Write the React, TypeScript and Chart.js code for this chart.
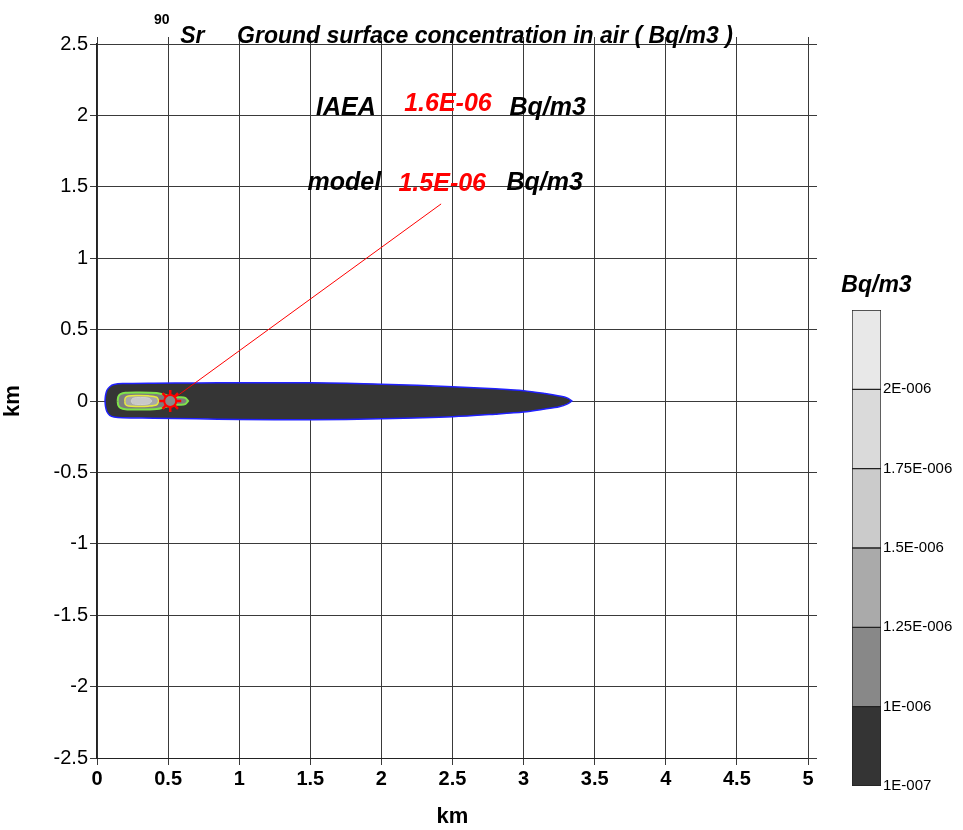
import React, { useEffect, useRef } from "react";
import { Chart, registerables } from "chart.js";

Chart.register(...registerables);

// ---- Data ----
// Outer plume contour (>= 1E-007 Bq/m3)
const plumeX = [0.056, 0.06, 0.07, 0.09, 0.12, 0.18, 0.4, 0.7, 1.0, 1.5, 2.0, 2.5, 2.8, 3.0, 3.15, 3.25, 3.31, 3.34];
const plumeTop = [0, 0.04, 0.075, 0.1, 0.115, 0.122, 0.125, 0.126, 0.128, 0.127, 0.118, 0.1, 0.085, 0.072, 0.052, 0.035, 0.02, 0];
const plumeBottom = [0, -0.04, -0.075, -0.1, -0.112, -0.118, -0.12, -0.124, -0.13, -0.132, -0.124, -0.11, -0.092, -0.077, -0.056, -0.04, -0.02, 0];

// Inner contour (green)
const greenX = [0.145, 0.15, 0.165, 0.2, 0.3, 0.42, 0.47, 0.52, 0.58, 0.62, 0.64];
const greenTop = [0, 0.03, 0.048, 0.058, 0.06, 0.056, 0.045, 0.03, 0.026, 0.022, 0];
const greenBottom = [0, -0.03, -0.048, -0.058, -0.06, -0.056, -0.045, -0.03, -0.026, -0.022, 0];

// Inner contour (yellow)
const yellowX = [0.195, 0.2, 0.22, 0.28, 0.36, 0.42, 0.435];
const yellowTop = [0, 0.024, 0.035, 0.038, 0.036, 0.026, 0];
const yellowBottom = [0, -0.024, -0.035, -0.038, -0.036, -0.026, 0];

// Core contour
const coreX = [0.24, 0.25, 0.28, 0.33, 0.37, 0.385];
const coreTop = [0, 0.018, 0.024, 0.024, 0.018, 0];
const coreBottom = [0, -0.018, -0.024, -0.024, -0.018, 0];

// Measurement point and leader line
const stationX = [0.515];
const stationY = [0];
const leaderX = [0.515, 2.42];
const leaderY = [0, 1.38];

// Colour bar
const barLevels = ["1E-007", "1E-006", "1.25E-006", "1.5E-006", "1.75E-006", "2E-006", ""];
const barColors = ["#343434", "#888888", "#aaaaaa", "#cbcbcb", "#dadada", "#e8e8e8"];

// Annotation values
const iaeaValue = "1.6E-06";
const modelValue = "1.5E-06";

function polygon(xs: number[], top: number[], bottom: number[]) {
  const pts = xs.map((x, i) => ({ x, y: top[i] }));
  for (let i = xs.length - 1; i >= 0; i--) pts.push({ x: xs[i], y: bottom[i] });
  return pts;
}

const FONT = "'Liberation Sans', Arial, sans-serif";
const NARROW = "'Liberation Sans Narrow', 'Liberation Sans', Arial, sans-serif";

const fmt = (v: any) => String(Math.round(Number(v) * 10) / 10);

const textPlugin = {
  id: "texts",
  afterDraw(chart: any) {
    const ctx = chart.ctx;
    const xs = chart.scales.x;
    const ys = chart.scales.y;
    const px = (v: number) => xs.getPixelForValue(v);
    const py = (v: number) => ys.getPixelForValue(v);
    ctx.save();
    ctx.textAlign = "left";
    ctx.textBaseline = "alphabetic";
    // title
    ctx.fillStyle = "#000";
    ctx.font = `bold 14px ${FONT}`;
    ctx.fillText("90", px(0.4), py(2.5) - 20);
    ctx.font = `italic bold 23px ${FONT}`;
    ctx.fillText("Sr", px(0.585), py(2.5) - 1);
    ctx.fillText("Ground surface concentration in air ( Bq/m3 )", px(0.985), py(2.5) - 1);
    // annotations
    ctx.font = `italic bold 25px ${FONT}`;
    ctx.fillText("IAEA", px(1.54), py(2.0));
    ctx.fillText("Bq/m3", px(2.9), py(2.0));
    ctx.fillText("model", px(1.48), py(1.48));
    ctx.fillText("Bq/m3", px(2.88), py(1.48));
    ctx.fillStyle = "#ff0000";
    ctx.font = `italic bold 25px ${FONT}`;
    ctx.fillText(iaeaValue, px(2.16), py(2.03));
    ctx.fillText(modelValue, px(2.12), py(1.47));
    ctx.restore();
  },
};

const barTitlePlugin = {
  id: "barTitle",
  afterDraw(chart: any) {
    const ctx = chart.ctx;
    const a = chart.chartArea;
    ctx.save();
    ctx.fillStyle = "#000";
    ctx.textAlign = "center";
    ctx.font = `italic bold 23px ${FONT}`;
    ctx.fillText("Bq/m3", (a.left + a.right) / 2 + 10, a.top - 18);
    ctx.restore();
  },
};

export default function App() {
  const mainRef = useRef<HTMLCanvasElement>(null);
  const barRef = useRef<HTMLCanvasElement>(null);

  useEffect(() => {
    const gridColor = "#3a3a3a";
    const station = stationX.map((x, i) => ({ x, y: stationY[i] }));
    const main = new Chart(mainRef.current!, {
      type: "scatter",
      data: {
        // first dataset is drawn on top
        datasets: [
          {
            data: station,
            pointStyle: "circle",
            pointRadius: 6,
            borderColor: "#ff0000",
            borderWidth: 2,
            backgroundColor: "#8a8a8a",
          },
          {
            data: station,
            pointStyle: "star",
            pointRadius: 11,
            borderColor: "#ff0000",
            borderWidth: 2.5,
            backgroundColor: "#ff0000",
          },
          {
            type: "line",
            data: leaderX.map((x, i) => ({ x, y: leaderY[i] })),
            borderColor: "#ff0000",
            borderWidth: 1,
            pointRadius: 0,
            fill: false,
          } as any,
          {
            type: "line",
            data: polygon(coreX, coreTop, coreBottom),
            borderColor: "#d0d0d0",
            borderWidth: 1,
            backgroundColor: "#c8c8c8",
            fill: "shape",
            pointRadius: 0,
            tension: 0.3,
          } as any,
          {
            type: "line",
            data: polygon(yellowX, yellowTop, yellowBottom),
            borderColor: "#e8e840",
            borderWidth: 1.5,
            backgroundColor: "#a8a8a8",
            fill: "shape",
            pointRadius: 0,
            tension: 0.3,
          } as any,
          {
            type: "line",
            data: polygon(greenX, greenTop, greenBottom),
            borderColor: "#7fe34a",
            borderWidth: 2,
            backgroundColor: "#7d7d7d",
            fill: "shape",
            pointRadius: 0,
            tension: 0.3,
          } as any,
          {
            type: "line",
            data: polygon(plumeX, plumeTop, plumeBottom),
            borderColor: "#2020ff",
            borderWidth: 1.5,
            backgroundColor: "#353535",
            fill: "shape",
            pointRadius: 0,
            tension: 0.3,
          } as any,
        ],
      },
      options: {
        responsive: false,
        animation: false,
        events: [],
        layout: { padding: 0 },
        plugins: { legend: { display: false }, tooltip: { enabled: false } },
        scales: {
          x: {
            type: "linear",
            position: "bottom",
            min: 0,
            max: 5,
            afterFit: (s: any) => {
              s.height = 72;
            },
            ticks: {
              stepSize: 0.5,
              color: "#000",
              padding: 2,
              maxRotation: 0,
              callback: fmt,
              font: { family: NARROW, size: 20, weight: "bold" },
            },
            grid: { color: gridColor, lineWidth: 1, tickLength: 7, tickColor: gridColor },
            border: { display: true, color: "#222", width: 1 },
            title: {
              display: true,
              text: "km",
              color: "#000",
              padding: { top: 0, bottom: 0 },
              font: { family: FONT, size: 22, weight: "bold" },
            },
          },
          x2: {
            type: "linear",
            position: "top",
            min: 0,
            max: 5,
            afterFit: (s: any) => {
              s.height = 44;
            },
            ticks: { stepSize: 0.5, display: false },
            grid: { drawOnChartArea: false, tickLength: 7, color: gridColor },
            border: { display: true, color: gridColor, width: 1 },
          },
          y: {
            type: "linear",
            position: "left",
            min: -2.5,
            max: 2.5,
            afterFit: (s: any) => {
              s.width = 97;
            },
            ticks: {
              stepSize: 0.5,
              color: "#000",
              padding: 2,
              callback: fmt,
              font: { family: FONT, size: 20 },
            },
            grid: { color: gridColor, lineWidth: 1, tickLength: 7, tickColor: gridColor },
            border: { display: true, color: "#222", width: 1.5 },
            title: {
              display: true,
              text: "km",
              color: "#000",
              padding: { top: 0, bottom: 6 },
              font: { family: FONT, size: 22, weight: "bold" },
            },
          },
          y2: {
            type: "linear",
            position: "right",
            min: -2.5,
            max: 2.5,
            afterFit: (s: any) => {
              s.width = 155;
            },
            ticks: { stepSize: 0.5, display: false },
            grid: { drawOnChartArea: false, tickLength: 9, color: gridColor },
            border: { display: true, color: gridColor, width: 1 },
          },
        },
      } as any,
      plugins: [textPlugin],
    });

    const bar = new Chart(barRef.current!, {
      type: "bar",
      data: {
        labels: [""],
        datasets: barColors.map((c, i) => ({
          data: [[i, i + 1]],
          backgroundColor: c,
          borderColor: "#222",
          borderWidth: 1,
          borderSkipped: false,
          grouped: false,
          barPercentage: 1,
          categoryPercentage: 1,
        })) as any,
      },
      options: {
        responsive: false,
        animation: false,
        events: [],
        layout: { padding: { left: 42, top: 50, bottom: 34, right: 0 } },
        plugins: { legend: { display: false }, tooltip: { enabled: false } },
        scales: {
          x: { display: false },
          y: {
            position: "right",
            min: 0,
            max: 6,
            afterFit: (s: any) => {
              s.width = 82;
            },
            ticks: {
              stepSize: 1,
              color: "#000",
              padding: 2,
              font: { family: FONT, size: 15 },
              callback: (v: any) => barLevels[Math.round(Number(v))] ?? "",
            },
            grid: { display: false, drawTicks: false },
            border: { display: false },
          },
        },
      } as any,
      plugins: [barTitlePlugin],
    });

    return () => {
      main.destroy();
      bar.destroy();
    };
  }, []);

  return (
    <div style={{ position: "absolute", left: 0, top: 0, width: 963, height: 830, background: "#fff" }}>
      <canvas ref={mainRef} width={963} height={830} style={{ position: "absolute", left: 0, top: 0 }} />
      <canvas ref={barRef} width={153} height={560} style={{ position: "absolute", left: 810, top: 260 }} />
    </div>
  );
}
